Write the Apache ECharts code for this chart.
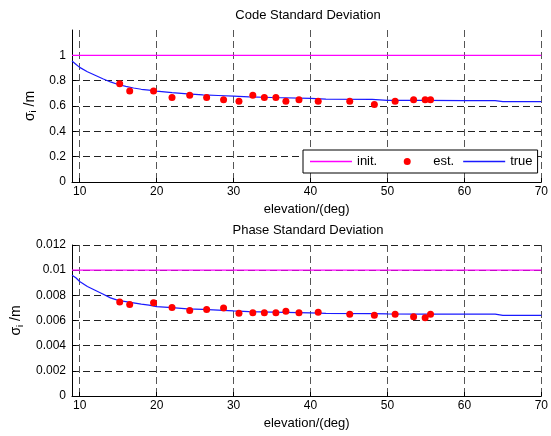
<!DOCTYPE html>
<html>
<head>
<meta charset="utf-8">
<script src="https://cdn.jsdelivr.net/npm/echarts@6/dist/echarts.min.js"></script>
<style>
html,body{margin:0;padding:0;background:#fff;}
#c{width:551px;height:436px;}
</style>
</head>
<body>
<div id="c"></div>
<script>
// ---- data ----
var xTicks = [10, 20, 30, 40, 50, 60, 70];
var xRange = [9, 70];

// estimated points (elevation, value)
var estElev = [15.2, 16.5, 19.6, 22.0, 24.3, 26.5, 28.7, 30.7, 32.5, 34.0, 35.5, 36.8, 38.5, 41.0, 45.1, 48.3, 51.0, 53.4, 54.9, 55.6];
var codeEst = [0.776, 0.718, 0.718, 0.668, 0.684, 0.668, 0.650, 0.637, 0.684, 0.668, 0.668, 0.637, 0.650, 0.637, 0.637, 0.611, 0.637, 0.650, 0.650, 0.650];
var phaseEst = [0.00748, 0.00728, 0.00741, 0.00704, 0.00680, 0.00688, 0.00699, 0.00657, 0.00662, 0.00662, 0.00662, 0.00673, 0.00662, 0.00665, 0.00649, 0.00641, 0.00649, 0.00630, 0.00622, 0.00649];

// true curves
var trueElev = [9, 9.5, 10, 11, 12, 13, 14, 15, 16, 17, 18, 19, 20, 22, 24, 26, 28, 30, 32, 35, 40, 42, 48, 50, 55, 60, 64, 65, 70];
var codeTrue = [0.955, 0.93, 0.905, 0.87, 0.843, 0.815, 0.79, 0.77, 0.755, 0.742, 0.732, 0.725, 0.718, 0.705, 0.695, 0.688, 0.683, 0.678, 0.672, 0.667, 0.660, 0.655, 0.652, 0.645, 0.644, 0.643, 0.642, 0.635, 0.634];
var phaseTrue = [0.0096, 0.0094, 0.0091, 0.0087, 0.0084, 0.0081, 0.0078, 0.0076, 0.0075, 0.0074, 0.0073, 0.00722, 0.0071, 0.00702, 0.00693, 0.00688, 0.00683, 0.00676, 0.0067, 0.00666, 0.0066, 0.00657, 0.00655, 0.00652, 0.0065, 0.0065, 0.0065, 0.0064, 0.0064];

// initial values
var codeInit = 1;
var phaseInit = 0.01;

var titles = ['Code Standard Deviation', 'Phase Standard Deviation'];
var xName = 'elevation/(deg)';
var legendNames = ['init.', 'est.', 'true'];

// ---- chart ----
var FONT = '"Liberation Sans", Arial, Helvetica, sans-serif';
var C_INIT = '#ff00ff', C_EST = '#ff0000', C_TRUE = '#1a1aff';
function pairs(xs, ys) { return xs.map(function (x, i) { return [x, ys[i]]; }); }

// legend icons: tiny corner specks fix the icon box to 42x7 so the mark keeps its size
var BOX = ' M0,0L0.01,0L0,0.01Z M42,7L41.99,7L42,6.99Z';
var lineIcon = 'path://M0,2.8L42,2.8L42,4.3L0,4.3Z' + BOX;
var dotIcon = 'path://M17.5,3.5a3.5,3.5 0 1,0 7,0a3.5,3.5 0 1,0 -7,0Z' + BOX;

var gridDash = [7, 4];
function xAxis(gi) {
  return {
    type: 'value', gridIndex: gi, min: xRange[0], max: xRange[1],
    name: xName, nameLocation: 'middle', nameGap: 21,
    nameTextStyle: { fontFamily: FONT, fontSize: 13, color: '#000' },
    axisLine: { show: true, onZero: false, lineStyle: { color: '#000', width: 1 } },
    axisTick: { show: true, inside: true, length: 4, customValues: xTicks, lineStyle: { color: '#000' } },
    axisLabel: { customValues: xTicks, margin: 4, fontFamily: FONT, fontSize: 12, color: '#000' },
    splitLine: { show: true, lineStyle: { color: '#555', type: gridDash, width: 1 } }
  };
}
function yAxis(gi, max, interval, nameGap, hideMax) {
  return {
    type: 'value', gridIndex: gi, min: 0, max: max, interval: interval,
    name: '{s|σ}{sub|i}{s| /m}', nameLocation: 'middle', nameGap: nameGap, nameRotate: 90,
    nameTextStyle: {
      fontFamily: FONT, color: '#000',
      rich: {
        s: { fontFamily: FONT, fontSize: 14, color: '#000' },
        sub: { fontFamily: FONT, fontSize: 9, color: '#000', verticalAlign: 'bottom', padding: [8, 0, 0, 0] }
      }
    },
    axisLine: { show: true, lineStyle: { color: '#000', width: 1 } },
    axisTick: { show: true, inside: true, length: 4, lineStyle: { color: '#000' } },
    axisLabel: { margin: 6, fontFamily: FONT, fontSize: 12, color: '#000', showMaxLabel: !hideMax },
    splitLine: { show: true, showMaxLine: !hideMax, lineStyle: { color: '#222', type: gridDash, width: 1 } }
  };
}

var option = {
  backgroundColor: '#fff',
  animation: false,
  title: [
    { text: titles[0], left: 303, top: 4, textAlign: 'center', textStyle: { fontFamily: FONT, fontSize: 13, fontWeight: 'normal', color: '#000' } },
    { text: titles[1], left: 303, top: 219, textAlign: 'center', textStyle: { fontFamily: FONT, fontSize: 13, fontWeight: 'normal', color: '#000' } }
  ],
  grid: [
    { left: 72, right: 6, top: 30, height: 152 },
    { left: 72, right: 6, top: 245, height: 151 }
  ],
  xAxis: [xAxis(0), xAxis(1)],
  yAxis: [yAxis(0, 1.2, 0.2, 28, true), yAxis(1, 0.012, 0.002, 44, false)],
  legend: {
    left: 303, top: 150,
    orient: 'horizontal',
    itemWidth: 42, itemHeight: 7, itemGap: 9,
    padding: [5, 5, 5, 7],
    borderColor: '#000', borderWidth: 1, borderRadius: 0,
    backgroundColor: '#fff',
    textStyle: { fontFamily: FONT, fontSize: 13, color: '#000' },
    itemStyle: { borderWidth: 0 },
    data: [
      { name: legendNames[0], icon: lineIcon, itemStyle: { color: C_INIT, borderColor: C_INIT, borderWidth: 0, opacity: 1 } },
      { name: legendNames[1], icon: dotIcon, itemStyle: { color: C_EST, borderColor: C_EST, borderWidth: 0, opacity: 1 } },
      { name: legendNames[2], icon: lineIcon, itemStyle: { color: C_TRUE, borderColor: C_TRUE, borderWidth: 0, opacity: 1 } }
    ],
    selectedMode: false
  },
  series: [
    { name: legendNames[0], type: 'line', xAxisIndex: 0, yAxisIndex: 0, symbol: 'none', z: 3,
      lineStyle: { color: C_INIT, width: 1.2 }, itemStyle: { color: C_INIT },
      data: pairs(xRange, [codeInit, codeInit]) },
    { name: legendNames[1], type: 'scatter', xAxisIndex: 0, yAxisIndex: 0, symbol: 'circle', symbolSize: 7, z: 4,
      itemStyle: { color: C_EST, opacity: 1 }, data: pairs(estElev, codeEst) },
    { name: legendNames[2], type: 'line', xAxisIndex: 0, yAxisIndex: 0, symbol: 'none', z: 3,
      lineStyle: { color: C_TRUE, width: 1.2 }, itemStyle: { color: C_TRUE },
      data: pairs(trueElev, codeTrue) },
    { name: legendNames[0], type: 'line', xAxisIndex: 1, yAxisIndex: 1, symbol: 'none', z: 3,
      lineStyle: { color: C_INIT, width: 1.2 }, itemStyle: { color: C_INIT }, data: pairs(xRange, [phaseInit, phaseInit]) },
    { name: legendNames[1], type: 'scatter', xAxisIndex: 1, yAxisIndex: 1, symbol: 'circle', symbolSize: 7, z: 4,
      itemStyle: { color: C_EST, opacity: 1 }, data: pairs(estElev, phaseEst) },
    { name: legendNames[2], type: 'line', xAxisIndex: 1, yAxisIndex: 1, symbol: 'none', z: 3,
      lineStyle: { color: C_TRUE, width: 1.2 }, itemStyle: { color: C_TRUE }, data: pairs(trueElev, phaseTrue) }
  ]
};
var chart = echarts.init(document.getElementById('c'), null, { renderer: 'canvas' });
chart.setOption(option);
</script>
</body>
</html>
